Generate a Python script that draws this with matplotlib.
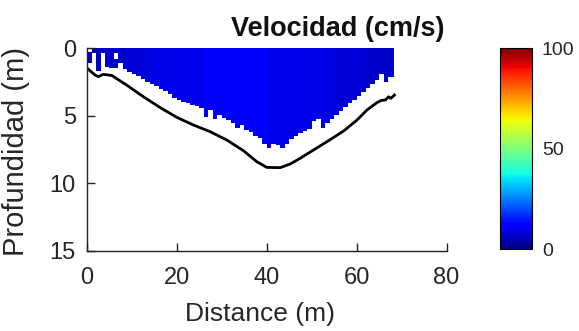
import numpy as np
import matplotlib
matplotlib.use("Agg")
import matplotlib.pyplot as plt

plt.rcParams['font.family'] = ['Liberation Sans', 'DejaVu Sans']

# Streambed profile: distance (m) and depth (m)
bed_x = [0.0, 0.3, 1.8, 2.5, 3.6, 5.5, 8.8, 12.5, 16.3, 20.0, 23.7, 27.4,
         31.1, 34.8, 37.8, 40.0, 43.0, 45.2, 47.4, 50.4, 53.4, 57.1, 60.1,
         62.3, 64.5, 65.5, 66.4, 67.1, 67.6, 68.2, 68.4]
bed_depth = [1.45, 1.55, 1.97, 2.09, 1.92, 2.0, 2.71, 3.57, 4.39, 5.11, 5.68,
             6.17, 6.79, 7.58, 8.40, 8.82, 8.84, 8.57, 8.15, 7.53, 6.91, 6.12,
             5.30, 4.56, 4.02, 3.85, 3.82, 3.58, 3.70, 3.52, 3.45]

# ADCP ensembles: lower limit of valid velocity cells per 1 m column (m)
cell_bottom = [1.10, 0.85, 1.72, 0.98, 1.35, 1.47, 1.47, 1.10, 1.55, 1.74,
               1.92, 2.04, 2.24, 2.44, 2.58, 2.78, 2.98, 3.15, 3.38, 3.65,
               3.87, 3.94, 4.07, 4.22, 4.31, 4.39, 5.11, 4.56, 5.18, 4.96,
               5.13, 5.30, 5.55, 5.90, 5.68, 6.05, 6.19, 6.49, 6.66, 7.03,
               7.41, 7.03, 7.16, 7.41, 7.03, 6.69, 6.49, 6.29, 6.14, 5.95,
               5.35, 5.18, 5.92, 5.50, 5.25, 4.93, 4.64, 4.36, 4.07, 3.82,
               3.52, 3.23, 2.88, 2.63, 2.34, 1.89, 2.46, 2.09, 2.09]

# Empty cells near the surface on the left bank: (column, top, bottom)
surface_gaps = [(0, 0.0, 0.25), (1, 0.35, 0.85), (3, 0.3, 0.98), (6, 0.3, 0.8)]

# Depth-averaged velocity per column (cm/s)
col_velocity = [6, 6, 6, 6, 7, 7, 7, 7, 7, 8,
                8, 8, 8, 8, 9, 9, 9, 9, 9, 9,
                10, 10, 10, 10, 10, 10, 11, 11, 11, 11,
                11, 11, 11, 11, 11, 11, 11, 11, 11, 11,
                10, 10, 10, 10, 10, 10, 10, 10, 9, 9,
                9, 9, 9, 9, 9, 8, 8, 8, 8, 8,
                8, 8, 7, 7, 7, 7, 7, 7, 7]

x_edges = np.append(np.arange(len(cell_bottom)), 68.4)
z_edges = np.arange(0, 9.01, 0.05)
z_mid = 0.5 * (z_edges[:-1] + z_edges[1:])

vel = np.tile(np.array(col_velocity, float), (len(z_mid), 1))
mask = z_mid[:, None] > np.array(cell_bottom)[None, :]
for col, top, bot in surface_gaps:
    mask[(z_mid >= top) & (z_mid <= bot), col] = True
vel = np.ma.masked_where(mask, vel)

fig = plt.figure(figsize=(5.79, 3.31), dpi=100)
ax = fig.add_axes([0.1503, 0.2426, 0.6209, 0.6109])

mesh = ax.pcolormesh(x_edges, z_edges, vel, cmap='jet', vmin=0, vmax=100,
                     shading='flat')
ax.plot(bed_x, bed_depth, color='black', lw=2.0)

ax.set_xlim(0, 80)
ax.set_ylim(15, 0)
ax.set_xticks([0, 20, 40, 60, 80])
ax.set_yticks([0, 5, 10, 15])
for s in ['top', 'right']:
    ax.spines[s].set_visible(False)
for s in ['left', 'bottom']:
    ax.spines[s].set_linewidth(1.0)
    ax.spines[s].set_color('#222222')

ax.tick_params(axis='both', direction='in', length=6, width=1.0,
               colors='#222222', labelsize=17, labelcolor='#262626')
ax.tick_params(axis='x', pad=12)
ax.tick_params(axis='y', pad=8)

ax.set_xlabel('Distance (m)', fontsize=19, color='#262626')
ax.set_ylabel('Profundidad (m)', fontsize=21, color='#262626')
ax.xaxis.set_label_coords(0.48, -0.255)
ax.yaxis.set_label_coords(-0.16, 0.49)

cax = fig.add_axes([0.8636, 0.2477, 0.0553, 0.607])
cb = fig.colorbar(mesh, cax=cax, ticks=[0, 50, 100])
cb.outline.set_linewidth(0.8)
cb.ax.tick_params(length=0, labelsize=14, labelcolor='#262626', pad=7)

fig.text(338 / 579, 1 - 29 / 331, 'Velocidad (cm/s)', ha='center', va='center',
         fontsize=19.5, fontweight='bold', color='#111111')

fig.savefig('out.png', dpi=100)
